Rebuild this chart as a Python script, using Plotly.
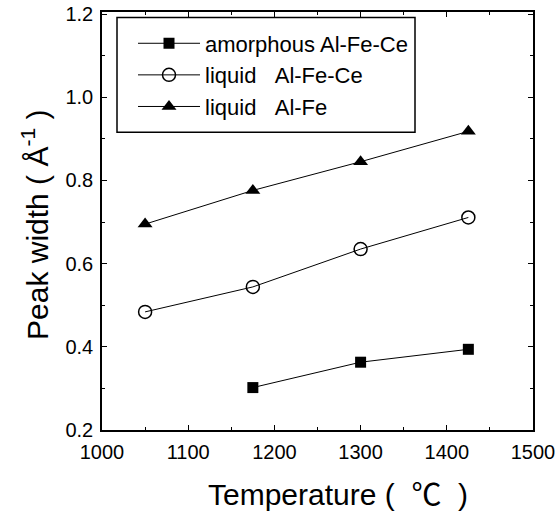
import plotly.graph_objects as go

temps = [1050, 1175, 1300, 1425]
amorph_temps = [1175, 1300, 1425]
amorph_AlFeCe = [0.302, 0.363, 0.394]
liquid_AlFeCe = [0.484, 0.544, 0.635, 0.711]
liquid_AlFe = [0.695, 0.776, 0.845, 0.918]

names = ["amorphous Al-Fe-Ce", "liquid\u00a0\u00a0\u00a0Al-Fe-Ce", "liquid\u00a0\u00a0\u00a0Al-Fe"]

FONT = "Liberation Sans, Arial, Helvetica, sans-serif"
L, R, T, B = 102, 23, 11.5, 83.5
W, H = 556, 514
PW, PH = W - L - R, H - T - B


def px(xp):
    return (xp - L) / PW


def py(yp):
    return (H - B - yp) / PH


fig = go.Figure()
fig.add_trace(go.Scatter(x=amorph_temps, y=amorph_AlFeCe, mode="lines+markers", name=names[0],
                         line=dict(color="black", width=1),
                         marker=dict(symbol="square", size=11, color="black")))
fig.add_trace(go.Scatter(x=temps, y=liquid_AlFeCe, mode="lines+markers", name=names[1],
                         line=dict(color="black", width=1),
                         marker=dict(symbol="circle-open", size=13, color="black", line=dict(width=1.5))))
fig.add_trace(go.Scatter(x=temps, y=liquid_AlFe, mode="lines+markers", name=names[2],
                         line=dict(color="black", width=1),
                         marker=dict(symbol="triangle-up", size=13, color="black")))

axis_common = dict(showline=True, linecolor="black", linewidth=1.5, mirror="allticks",
                   ticks="inside", ticklen=5, tickwidth=1.2, tickcolor="black",
                   showgrid=False, zeroline=False, automargin=False,
                   tickfont=dict(family=FONT, size=20, color="black"))

fig.update_xaxes(range=[1000, 1500], dtick=100, tick0=1000,
                 minor=dict(dtick=50, ticks="inside", ticklen=3, tickcolor="black", tickwidth=1),
                 ticklabelstandoff=3, **axis_common)
fig.update_yaxes(range=[0.2, 1.205], dtick=0.2, tick0=0.2, tickformat=".1f",
                 minor=dict(dtick=0.1, ticks="inside", ticklen=3, tickcolor="black", tickwidth=1),
                 ticklabelstandoff=3, **axis_common)

fig.add_annotation(text="Temperature (\u00a0\u00a0<span style='font-family:Noto Sans CJK SC'>℃</span>\u00a0\u00a0)",
                   xref="paper", yref="paper", x=px(206), y=py(493), xanchor="left", yanchor="middle",
                   showarrow=False, font=dict(family=FONT, size=30, color="black"))
fig.add_annotation(text="Peak width ( Å<sup>-1</sup> )",
                   xref="paper", yref="paper", x=px(35), y=py(225), xanchor="center", yanchor="middle",
                   textangle=-90, showarrow=False, font=dict(family=FONT, size=30, color="black"))

# legend frame
fig.add_shape(type="rect", xref="paper", yref="paper",
              x0=px(117), x1=px(415), y0=py(132), y1=py(17),
              line=dict(color="black", width=1.5), fillcolor="white", layer="below")

fig.update_layout(
    width=W, height=H,
    margin=dict(l=L, r=R, t=T, b=B),
    plot_bgcolor="white", paper_bgcolor="white",
    legend=dict(x=px(133), y=py(22), xanchor="left", yanchor="top",
                borderwidth=0, bgcolor="rgba(0,0,0,0)",
                font=dict(family=FONT, size=22, color="black"),
                itemwidth=62, tracegroupgap=0, traceorder="normal"),
    showlegend=True,
)

fig.write_html("out.html")
